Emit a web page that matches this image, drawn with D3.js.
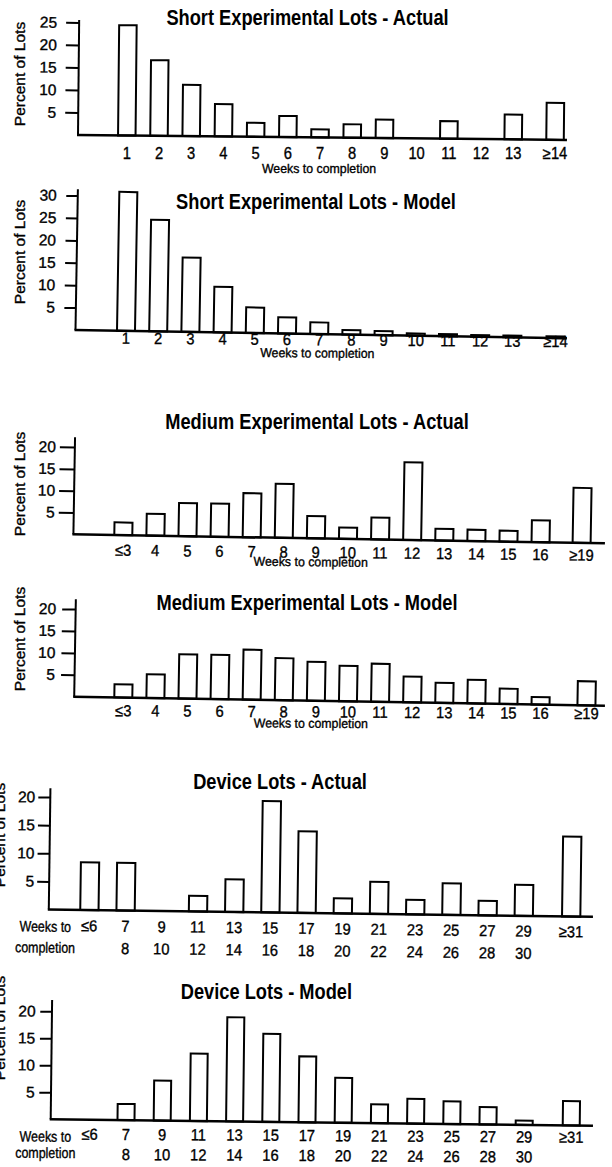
<!DOCTYPE html>
<html><head><meta charset="utf-8">
<script src="https://cdn.jsdelivr.net/npm/d3@7/dist/d3.min.js"></script>
<style>
body{margin:0;background:#fff}
svg{display:block}
text{font-family:"Liberation Sans",Arial,Helvetica,sans-serif;fill:#000}
text.reg{stroke:#000;stroke-width:0.35px}
</style>
</head><body>
<svg id="chart" width="612" height="1167"></svg>
<script>
// ---------- data ----------
const shortCats = ["1","2","3","4","5","6","7","8","9","10","11","12","13","\u226514"];
const shortActual = [24.5, 16.8, 11.4, 7.2, 3.1, 4.7, 1.8, 3.0, 4.1, 0, 3.9, 0, 5.5, 8.2];
const shortModel  = [31.0, 24.9, 16.6, 10.2, 5.7, 3.6, 2.6, 1.0, 0.9, 0.5, 0.5, 0.4, 0.4, 0.4];

const mediumCats = ["\u22643","4","5","6","7","8","9","10","11","12","13","14","15","16","\u226519"];
const mediumActual = [2.9, 5.0, 7.6, 7.6, 10.1, 12.4, 5.1, 2.6, 5.0, 17.8, 2.7, 2.6, 2.5, 5.0, 12.6];
const mediumModel  = [3.0, 5.4, 10.1, 10.1, 11.4, 9.6, 8.9, 8.1, 8.7, 5.9, 4.6, 5.4, 3.5, 1.7, 5.5];

const deviceCatsTop    = ["\u22646","7","9","11","13","15","17","19","21","23","25","27","29","\u226531"];
const deviceCatsBottom = ["","8","10","12","14","16","18","20","22","24","26","28","30",""];
const deviceActual = [8.5, 8.5, 0, 2.8, 5.8, 19.8, 14.5, 2.7, 5.7, 2.6, 5.6, 2.6, 5.5, 14.2];
const deviceModel  = [0, 3.0, 7.4, 12.5, 19.3, 16.3, 12.2, 8.3, 3.5, 4.6, 4.2, 3.2, 0.8, 4.5];

const shortActualTicks = [5, 10, 15, 20, 25];
const shortModelTicks  = [5, 10, 15, 20, 25, 30];
const mediumTicks      = [5, 10, 15, 20];
const deviceTicks      = [5, 10, 15, 20];

const titles = [
  "Short Experimental Lots - Actual",
  "Short Experimental Lots - Model",
  "Medium Experimental Lots - Actual",
  "Medium Experimental Lots - Model",
  "Device Lots - Actual",
  "Device Lots - Model"
];
const yLabel = "Percent of Lots";
const xLabel = "Weeks to completion";
const xLabelTwoLine = ["Weeks to", "completion"];

// ---------- layout ----------
const panels = [
  {title: titles[0], cats: shortCats, values: shortActual, ticks: shortActualTicks,
   L: {axisX: 78, baseY: 135, unit: 4.5, axisTop: 20, right: 567, first: 126.8, step: 32.2, extra: 0.30, bw: 19.5,
       rot: 0.58, labelRot: 0, tickLen: 13, tickPad: 9, labDy: 24, weeksDy: 37.7, weeksX: 319,
       titleX: 307.5, titleY: 25, yLabX: 25, yLabY: 74}},
  {title: titles[1], cats: shortCats, values: shortModel, ticks: shortModelTicks,
   L: {axisX: 75.5, baseY: 330, unit: 4.48, axisTop: 189.3, right: 567, first: 126, step: 32.2, extra: 0.34, bw: 20,
       rot: 0.97, labelRot: 0.45, tickLen: 11.5, tickPad: 9.5, labDy: 13.3, weeksDy: 25.6, weeksX: 317.5,
       titleX: 316, titleY: 209, yLabX: 25, yLabY: 252}},
  {title: titles[2], cats: mediumCats, values: mediumActual, ticks: mediumTicks,
   L: {axisX: 73.4, baseY: 534.3, unit: 4.36, axisTop: 437.3, right: 605, first: 123.3, step: 32.1, extra: 0.28, bw: 20,
       rot: 0.97, labelRot: 0.6, tickLen: 15, tickPad: 4, labDy: 21, weeksDy: 29.5, weeksX: 311,
       titleX: 317, titleY: 429, yLabX: 25, yLabY: 484}},
  {title: titles[3], cats: mediumCats, values: mediumModel, ticks: mediumTicks,
   L: {axisX: 74.2, baseY: 696.7, unit: 4.38, axisTop: 599.3, right: 605, first: 123.3, step: 32.1, extra: 0.43, bw: 20,
       rot: 0.97, labelRot: 0.35, tickLen: 13.5, tickPad: 6, labDy: 19.2, weeksDy: 29.6, weeksX: 311,
       titleX: 307, titleY: 610, yLabX: 25, yLabY: 639}},
  {title: titles[4], cats: deviceCatsTop, cats2: deviceCatsBottom, values: deviceActual, ticks: deviceTicks,
   L: {axisX: 48.8, baseY: 909.5, unit: 5.62, axisTop: 788.3, right: 593, first: 89.4, step: 36.2, extra: 0.31, bw: 20.3,
       rot: 0.77, labelRot: 0.7, tickLen: 12, tickPad: 3, labDy: 21.3, lab2Dy: 43.5, weeksDy: 22.2, weeks2Dy: 43.2, weeksX: 45.5,
       titleX: 280, titleY: 789, yLabX: 5, yLabY: 835}},
  {title: titles[5], cats: deviceCatsTop, cats2: deviceCatsBottom, values: deviceModel, ticks: deviceTicks,
   L: {axisX: 50.7, baseY: 1119.3, unit: 5.4, axisTop: 1000, right: 593, first: 89.8, step: 36.2, extra: 0.30, bw: 19,
       rot: 0.68, labelRot: 0.35, tickLen: 11.7, tickPad: 4.7, labDy: 20.2, lab2Dy: 40.2, weeksDy: 22.4, weeks2Dy: 38.7, weeksX: 45.5,
       titleX: 266.4, titleY: 999, yLabX: 5, yLabY: 1028}}
];

const STYLE = {
  stroke: 2, titleSize: 22, titleSx: 0.83, tickSize: 16, tickSx: 0.92,
  ySize: 15.5, yLabSize: 15.5, weeksSize: 13, weeksSx: 0.95, weeks2Size: 15, weeks2Sx: 0.83
};

const svg = d3.select("#chart");

function ctext(sel, x, y, str, size, sx, anchor, weight) {
  return sel.append("text")
    .attr("class", weight === "bold" ? "ttl" : "reg")
    .attr("transform", `translate(${x},${y}) scale(${sx},1)`)
    .attr("text-anchor", anchor || "middle")
    .style("font-size", size + "px")
    .style("font-weight", weight || "normal")
    .text(str);
}

panels.forEach(p => {
  const L = p.L;
  const n = p.cats.length;
  const maxT = d3.max(p.ticks);
  const y = d3.scaleLinear().domain([0, maxT]).range([L.baseY, L.baseY - maxT * L.unit]);
  const xi = d3.scaleLinear().domain([0, 1]).range([L.first, L.first + L.step]);
  const cx = i => xi(i + (i === n - 1 ? L.extra : 0));

  // title
  ctext(svg, L.titleX, L.titleY, p.title, STYLE.titleSize, STYLE.titleSx, "middle", "bold");

  // y label
  svg.append("text")
    .attr("class", "reg")
    .attr("transform", `translate(${L.yLabX},${L.yLabY}) rotate(-90)`)
    .attr("text-anchor", "middle")
    .style("font-size", STYLE.yLabSize + "px")
    .text(yLabel);

  // rotated plot group (scan skew)
  const g = svg.append("g").attr("transform", `rotate(${L.rot},${L.axisX},${L.baseY})`);

  // bars
  const barData = p.values.map((v, i) => ({v, i})).filter(d => d.v > 0);
  g.selectAll("rect.bar").data(barData).enter().append("rect")
    .attr("class", "bar")
    .attr("x", d => cx(d.i) - (L.bw - STYLE.stroke) / 2)
    .attr("width", L.bw - STYLE.stroke)
    .attr("y", d => y(d.v))
    .attr("height", d => y(0) - y(d.v))
    .attr("fill", "#fff")
    .attr("stroke", "#000")
    .attr("stroke-width", STYLE.stroke);

  // y axis
  const ya = d3.axisLeft(y).tickValues(p.ticks).tickSize(L.tickLen).tickPadding(L.tickPad).tickFormat(d3.format("d"));
  const ag = g.append("g").attr("transform", `translate(${L.axisX},0)`).call(ya);
  ag.attr("font-size", null).attr("font-family", null);
  ag.select(".domain").remove();
  ag.selectAll(".tick line").attr("stroke", "#000").attr("stroke-width", STYLE.stroke);
  ag.selectAll(".tick text").attr("fill", "#000").attr("class", "reg")
    .style("font-size", STYLE.ySize + "px");

  // axis lines
  g.append("line").attr("x1", L.axisX).attr("x2", L.axisX).attr("y1", L.axisTop).attr("y2", y(0))
    .attr("stroke", "#000").attr("stroke-width", STYLE.stroke);
  g.append("line").attr("x1", L.axisX - 1).attr("x2", L.right).attr("y1", y(0)).attr("y2", y(0))
    .attr("stroke", "#000").attr("stroke-width", STYLE.stroke + 0.5);

  // x labels
  const lg = svg.append("g").attr("transform", `rotate(${L.labelRot},${L.axisX},${L.baseY})`);
  p.cats.forEach((c, i) => ctext(lg, cx(i), L.baseY + L.labDy, c, STYLE.tickSize, STYLE.tickSx));
  if (p.cats2) {
    p.cats2.forEach((c, i) => { if (c) ctext(lg, cx(i), L.baseY + L.lab2Dy, c, STYLE.tickSize, STYLE.tickSx); });
    ctext(lg, L.weeksX, L.baseY + L.weeksDy, xLabelTwoLine[0], STYLE.weeks2Size, STYLE.weeks2Sx);
    ctext(lg, L.weeksX, L.baseY + L.weeks2Dy, xLabelTwoLine[1], STYLE.weeks2Size, STYLE.weeks2Sx);
  } else {
    ctext(lg, L.weeksX, L.baseY + L.weeksDy, xLabel, STYLE.weeksSize, STYLE.weeksSx);
  }
});
</script>
</body></html>
